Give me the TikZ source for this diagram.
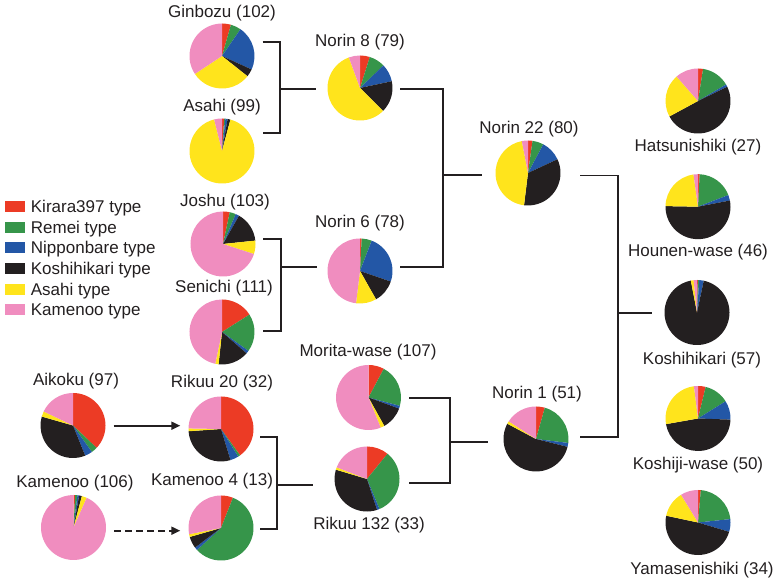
\documentclass[tikz,border=0pt]{standalone}
\usepackage{fontspec}
\setmainfont{Liberation Sans}
\usetikzlibrary{arrows.meta}
\definecolor{cR}{HTML}{EC3B25}
\definecolor{cG}{HTML}{36954A}
\definecolor{cB}{HTML}{2357A6}
\definecolor{cK}{HTML}{231F20}
\definecolor{cY}{HTML}{FFE41C}
\definecolor{cP}{HTML}{F08DBF}
\tikzset{
  piebox/.style={circle, minimum size=65pt, inner sep=0pt, draw=none},
  lab/.style={font=\fontsize{17}{20}\selectfont, inner sep=0pt, text=cK},
  legsq/.style={minimum width=20pt, minimum height=11pt, inner sep=0pt, draw=none},
  conn/.style={draw=cK, line width=1.8pt},
  arr/.style={conn, -{Triangle[length=9pt,width=8pt]}},
}
\newcommand{\pieR}{32.5pt}
\newcommand{\ricepie}[8]{%
  \node[piebox] (#1) at (#2,#3) {};
  \fill[cR] (#1.center) -- ++(90:\pieR) arc[start angle=90, end angle={90-(#4)}, radius=\pieR] -- cycle;
  \fill[cG] (#1.center) -- ++({90-(#4)}:\pieR) arc[start angle={90-(#4)}, end angle={90-(#5)}, radius=\pieR] -- cycle;
  \fill[cB] (#1.center) -- ++({90-(#5)}:\pieR) arc[start angle={90-(#5)}, end angle={90-(#6)}, radius=\pieR] -- cycle;
  \fill[cK] (#1.center) -- ++({90-(#6)}:\pieR) arc[start angle={90-(#6)}, end angle={90-(#7)}, radius=\pieR] -- cycle;
  \fill[cY] (#1.center) -- ++({90-(#7)}:\pieR) arc[start angle={90-(#7)}, end angle={90-(#8)}, radius=\pieR] -- cycle;
  \fill[cP] (#1.center) -- ++({90-(#8)}:\pieR) arc[start angle={90-(#8)}, end angle=-270, radius=\pieR] -- cycle;
}
\begin{document}
\begin{tikzpicture}[x=1pt, y=1pt]
\useasboundingbox (0,0) rectangle (777,583);

% ---------- pies ----------
\ricepie{ginbozu}{222}{527}{16}{34.5}{114.5}{128.5}{236.5}
\ricepie{asahi}{222}{432}{4}{6}{10}{15}{346}
\ricepie{norin8}{360}{495}{17.5}{46}{78}{135}{340}
\ricepie{joshu}{223}{339}{12}{23}{29.5}{84}{108}
\ricepie{norin6}{360}{312}{3}{21}{109}{150.5}{187}
\ricepie{senichi}{222}{251}{57.6}{125.5}{131}{186}{192}
\ricepie{aikoku}{73}{157.5}{133.4}{144.5}{158}{286}{295.5}
\ricepie{rikuu20}{221}{154}{144}{148}{163}{266}{271}
\ricepie{kamenoo}{73.5}{55.5}{3}{7}{10}{15}{24}
\ricepie{kamenoo4}{221}{55}{21.5}{227.6}{233}{254}{259}
\ricepie{morita}{368.5}{185.5}{28}{105}{110}{151}{158}
\ricepie{rikuu132}{367}{104}{39}{157.4}{162}{286.7}{291}
\ricepie{norin22}{528}{410}{8}{28}{65}{187}{349}
\ricepie{norin1}{536}{144}{15.7}{97}{104}{298}{303}
\ricepie{hatsu}{698}{482}{9}{59.6}{64}{241.6}{318.8}
\ricepie{hounen}{698}{376.3}{3}{69}{79}{271}{352}
\ricepie{koshi}{697}{270.5}{1.5}{4}{12}{349}{354}
\ricepie{koshiji}{698}{164.5}{13.6}{58}{92}{260}{352.8}
\ricepie{yama}{698}{60.5}{5}{84}{106.7}{282}{328.6}

% ---------- labels ----------
\node[lab] (lginbozu) at (222,570) {Ginbozu (102)};
\node[lab] (lnorin8) at (360,541) {Norin 8 (79)};
\node[lab] (lasahi) at (222,476) {Asahi (99)};
\node[lab] (ljoshu) at (225,381) {Joshu (103)};
\node[lab] (lnorin6) at (360,360) {Norin 6 (78)};
\node[lab] (lsenichi) at (224,295) {Senichi (111)};
\node[lab] (laikoku) at (76,202) {Aikoku (97)};
\node[lab] (lrikuu20) at (222,200) {Rikuu 20 (32)};
\node[lab] (lkamenoo) at (75,100) {Kamenoo (106)};
\node[lab] (lkamenoo4) at (212,102) {Kamenoo 4 (13)};
\node[lab] (lmorita) at (368,231) {Morita-wase (107)};
\node[lab] (lrikuu132) at (369,58) {Rikuu 132 (33)};
\node[lab] (lnorin22) at (529,454) {Norin 22 (80)};
\node[lab] (lnorin1) at (537,189) {Norin 1 (51)};
\node[lab] (lhatsu) at (698,436) {Hatsunishiki (27)};
\node[lab] (lhounen) at (698,331) {Hounen-wase (46)};
\node[lab] (lkoshi) at (702,223) {Koshihikari (57)};
\node[lab] (lkoshiji) at (698,118) {Koshiji-wase (50)};
\node[lab] (lyama) at (702,13) {Yamasenishiki (34)};

% ---------- legend ----------
\node[legsq, fill=cR] (sqR) at (15,376.3) {};
\node[legsq, fill=cG] (sqG) at (15,355.7) {};
\node[legsq, fill=cB] (sqB) at (15,335.0) {};
\node[legsq, fill=cK] (sqK) at (15,314.3) {};
\node[legsq, fill=cY] (sqY) at (15,293.7) {};
\node[legsq, fill=cP] (sqP) at (15,273.0) {};
\node[lab, anchor=base west] (tR) at (30.7,370.3) {Kirara397 type};
\node[lab, anchor=base west] (tG) at (30.7,349.7) {Remei type};
\node[lab, anchor=base west] (tB) at (30.7,329.0) {Nipponbare type};
\node[lab, anchor=base west] (tK) at (30.7,308.3) {Koshihikari type};
\node[lab, anchor=base west] (tY) at (30.7,287.7) {Asahi type};
\node[lab, anchor=base west] (tP) at (30.7,267.0) {Kamenoo type};

% ---------- bracket joints ----------
\coordinate (b1t) at (262.7,541.3);
\coordinate (b1b) at (262.7,449.7);
\coordinate (b1j) at (280,493.7);
\coordinate (b1e) at (315.7,493.7);

\coordinate (b2t) at (263.3,344);
\coordinate (b2b) at (263.3,252);
\coordinate (b2j) at (281,315.7);
\coordinate (b2e) at (316.7,315.7);

\coordinate (b3t) at (260,146.3);
\coordinate (b3b) at (260,54);
\coordinate (b3j) at (277,98);
\coordinate (b3e) at (313,98);

\coordinate (b4t) at (400,494);
\coordinate (b4b) at (400,316);
\coordinate (b4j) at (442.7,408);
\coordinate (b4e) at (481.7,408);

\coordinate (b5t) at (409.3,184.7);
\coordinate (b5b) at (409.3,100);
\coordinate (b5j) at (450,141.3);
\coordinate (b5e) at (488.3,141.3);

\coordinate (b6t) at (580,407.5);
\coordinate (b6b) at (580,146.3);
\coordinate (b6j) at (618.3,269.7);
\coordinate (b6e) at (651.7,269.7);

% ---------- connectors ----------
\draw[conn] (b1t) -| (b1j) |- (b1b);
\draw[conn] (b1j) -- (b1e);
\draw[conn] (b2t) -| (b2j) |- (b2b);
\draw[conn] (b2j) -- (b2e);
\draw[conn] (b3t) -| (b3j) |- (b3b);
\draw[conn] (b3j) -- (b3e);
\draw[conn] (b4t) -| (b4j) |- (b4b);
\draw[conn] (b4j) -- (b4e);
\draw[conn] (b5t) -| (b5j) |- (b5b);
\draw[conn] (b5j) -- (b5e);
\draw[conn] (b6t) -| (b6j) |- (b6b);
\draw[conn] (b6j) -- (b6e);

\draw[arr] ([xshift=8pt,yshift=-0.2pt]aikoku.east) -- ([xshift=-8pt,yshift=3.3pt]rikuu20.west);
\draw[arr, dash pattern=on 7pt off 4pt] ([xshift=8pt,yshift=-3.2pt]kamenoo.east) -- ([xshift=-8pt,yshift=-2.7pt]kamenoo4.west);
\end{tikzpicture}
\end{document}
